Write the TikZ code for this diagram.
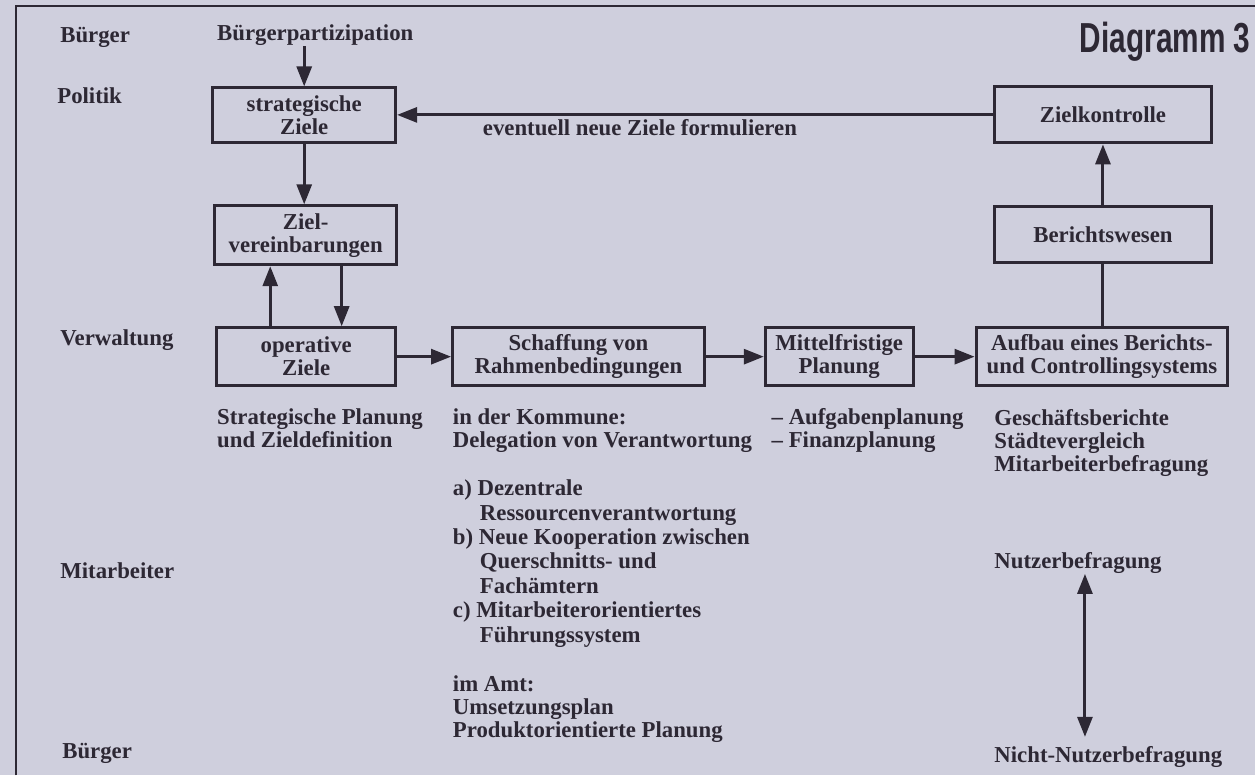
\documentclass[tikz,border=0pt]{standalone}
\usepackage{fontspec}
\setmainfont{Liberation Serif}
\newfontfamily\titelfont[FakeStretch=0.71]{Liberation Sans}
\usetikzlibrary{arrows.meta}

\definecolor{papier}{RGB}{207,207,221}
\definecolor{tinte}{RGB}{45,40,52}
\newcommand{\diagfont}{\fontsize{11.4}{11.5}\selectfont\bfseries}
\newcommand{\listfont}{\fontsize{11.4}{12.25}\selectfont\bfseries}

\tikzset{
  kasten/.style={draw=tinte, line width=1.5pt, align=center, inner sep=0pt, text=tinte, font=\diagfont},
  notiz/.style={align=left, inner sep=0pt, anchor=base west, text=tinte, font=\diagfont},
  pfeil/.style={draw=tinte, line width=1.5pt, -{Triangle[length=10pt,width=7.5pt]}},
  doppelpfeil/.style={draw=tinte, line width=1.5pt, {Triangle[length=10pt,width=7.5pt]}-{Triangle[length=10pt,width=7.5pt]}},
  linie/.style={draw=tinte, line width=1.5pt}
}

\begin{document}
\begin{tikzpicture}[x=0.5pt, y=-0.5pt]
% Paper and frame
\fill[papier] (0,0) rectangle (1256,776);
\draw[tinte, line width=1.2pt] (16,776) -- (16,6) -- (1256,6);

% Title
\node[anchor=base east, inner sep=0pt, text=tinte, font={\titelfont\bfseries\fontsize{21}{24}\selectfont}] (titel) at (1252,53) {Diagramm 3};

% Levels on the left
\node[notiz] (buerger) at (60,43) {Bürger};
\node[notiz] (politik) at (57,104) {Politik};
\node[notiz] (verwaltung) at (60,346) {Verwaltung};
\node[notiz] (mitarbeiter) at (60,579) {Mitarbeiter};
\node[notiz] (buergerunten) at (62,759) {Bürger};

% Goal boxes
\node[notiz] (partizipation) at (217,41) {Bürgerpartizipation};
\node[kasten, minimum width=91.5pt, minimum height=27.5pt] (strat) at (304.5,115.5) {strategische\\Ziele};
\node[kasten, minimum width=91pt, minimum height=29.5pt] (zielv) at (306,235.5) {Ziel-\\vereinbarungen};
\node[kasten, minimum width=89.5pt, minimum height=29pt] (operativ) at (306.5,357) {operative\\Ziele};

% Process chain
\node[kasten, minimum width=126pt, minimum height=29pt] (schaffung) at (579,357) {Schaffung von\\Rahmenbedingungen};
\node[kasten, minimum width=74pt, minimum height=29pt] (mittel) at (840,357) {Mittelfristige\\Planung};
\node[kasten, minimum width=126pt, minimum height=29pt] (aufbau) at (1103,357) {Aufbau eines Berichts-\\und Controllingsystems};
\node[kasten, minimum width=109pt, minimum height=28pt] (berichts) at (1104,235) {Berichtswesen};
\node[kasten, minimum width=109pt, minimum height=28pt] (zielk) at (1104,115) {Zielkontrolle};
\node[notiz] (formulieren) at (483,136) {eventuell neue Ziele formulieren};

% Notes below the chain (placed at the baseline of their last line)
\node[notiz] (planung) at (217,448) {Strategische Planung\\und Zieldefinition};
\node[notiz] (kommune) at (453,448) {in der Kommune:\\Delegation von Verantwortung};
\node[notiz] (finanz) at (772,448) {-- Aufgabenplanung\\-- Finanzplanung};
\node[notiz] (berichte) at (995,472) {Geschäftsberichte\\Städtevergleich\\Mitarbeiterbefragung};
\node[notiz, font=\listfont] (massnahmen) at (453,643) {a) Dezentrale\\\hspace*{13.5pt}Ressourcenverantwortung\\b) Neue Kooperation zwischen\\\hspace*{13.5pt}Querschnitts- und\\\hspace*{13.5pt}Fachämtern\\c) Mitarbeiterorientiertes\\\hspace*{13.5pt}Führungssystem};
\node[notiz] (amt) at (453,738) {im Amt:\\Umsetzungsplan\\Produktorientierte Planung};
\node[notiz] (nutzer) at (995,569) {Nutzerbefragung};
\node[notiz] (nichtnutzer) at (995,763) {Nicht-Nutzerbefragung};

% Connectors
\draw[pfeil] (partizipation.south -| strat.north) -- (strat.north);
\draw[pfeil] (strat.south) -- (strat.south |- zielv.north);
\draw[pfeil] ([xshift=-18pt]operativ.north) -- ([xshift=-18pt]operativ.north |- zielv.south);
\draw[pfeil] ([xshift=18pt]zielv.south) -- ([xshift=18pt]zielv.south |- operativ.north);
\draw[pfeil] (operativ.east) -- (schaffung.west);
\draw[pfeil] (schaffung.east) -- (mittel.west);
\draw[pfeil] (mittel.east) -- (aufbau.west);
\draw[linie] (berichts.south) -- (berichts.south |- aufbau.north);
\draw[pfeil] (berichts.north) -- (zielk.south);
\draw[pfeil] (zielk.west) -- (zielk.west -| strat.east);
\draw[doppelpfeil, shorten >=4.5pt] ([xshift=3.5pt]nutzer.south) -- ([xshift=3.5pt]nutzer.south |- nichtnutzer.north);
\end{tikzpicture}
\end{document}
